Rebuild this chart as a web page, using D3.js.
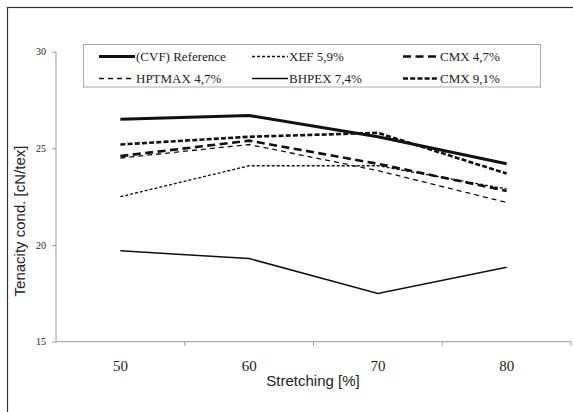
<!DOCTYPE html>
<html>
<head>
<meta charset="utf-8">
<script src="https://cdn.jsdelivr.net/npm/d3@7"></script>
<style>
  html, body { margin: 0; padding: 0; background: #fff; }
  svg { display: block; }
</style>
</head>
<body>
<svg id="chart" width="573" height="412"></svg>
<script>
// Stretching levels (x categories) and tenacity values per fibre type
const stretching = ["50", "60", "70", "80"];
const yTicks = [15, 20, 25, 30];

const reference = [26.5, 26.7, 25.6, 24.2];
const xef59     = [22.5, 24.1, 24.1, 22.9];
const cmx47     = [24.6, 25.4, 24.2, 22.8];
const hptmax47  = [24.5, 25.2, 23.85, 22.2];
const bhpex74   = [19.7, 19.3, 17.5, 18.85];
const cmx91     = [25.2, 25.6, 25.8, 23.7];

const seriesNames = ["(CVF) Reference", "XEF 5,9%", "CMX 4,7%", "HPTMAX 4,7%", "BHPEX 7,4%", "CMX 9,1%"];

const series = [
  { name: seriesNames[0], values: reference, width: 3,   dash: null },
  { name: seriesNames[1], values: xef59,     width: 1.3, dash: "3,2" },
  { name: seriesNames[2], values: cmx47,     width: 2.6, dash: "8,4.5" },
  { name: seriesNames[3], values: hptmax47,  width: 1.3, dash: "5,4" },
  { name: seriesNames[4], values: bhpex74,   width: 1.5, dash: null },
  { name: seriesNames[5], values: cmx91,     width: 2.6, dash: "5,2.2" }
];

const svg = d3.select("#chart");

// outer frame
svg.append("rect")
  .attr("x", 7.5).attr("y", 7.5)
  .attr("width", 600).attr("height", 420)
  .attr("fill", "none").attr("stroke", "#333").attr("stroke-width", 1.2);

const plotLeft = 56, plotRight = 571, plotTop = 51.7, plotBottom = 341.7;

const x = d3.scaleBand().domain(stretching).range([plotLeft, plotRight]).padding(0);
const y = d3.scaleLinear().domain([15, 30]).range([plotBottom, plotTop]);

const axisColor = "#999";

// y axis
const yAxis = svg.append("g")
  .attr("transform", `translate(${plotLeft},0)`)
  .call(d3.axisLeft(y).tickValues(yTicks).tickSize(4).tickPadding(6).tickFormat(d3.format("d")));
yAxis.select(".domain").attr("stroke", axisColor).attr("d", `M0,${plotTop}V${plotBottom}`);
yAxis.selectAll(".tick line").attr("stroke", axisColor);
yAxis.selectAll(".tick text")
  .attr("fill", "#222")
  .style("font-family", "'Liberation Serif', 'Times New Roman', serif")
  .style("font-size", "10px");

// x axis: baseline, boundary ticks, centred category labels
const xg = svg.append("g");
xg.append("line")
  .attr("x1", plotLeft).attr("x2", plotRight)
  .attr("y1", plotBottom).attr("y2", plotBottom)
  .attr("stroke", axisColor).attr("stroke-width", 1);
const bounds = stretching.map(c => x(c)).concat([x.range()[1]]);
xg.selectAll(".xtick").data(bounds.slice(1)).enter().append("line")
  .attr("x1", d => d).attr("x2", d => d)
  .attr("y1", plotBottom).attr("y2", plotBottom + 4)
  .attr("stroke", axisColor);
xg.selectAll(".xlab").data(stretching).enter().append("text")
  .attr("x", d => x(d) + x.bandwidth() / 2)
  .attr("y", plotBottom + 29)
  .attr("text-anchor", "middle")
  .attr("fill", "#222")
  .style("font-family", "'Liberation Serif', 'Times New Roman', serif")
  .style("font-size", "15px")
  .text(d => d);

// axis titles
svg.append("text")
  .attr("x", 313).attr("y", 386)
  .attr("text-anchor", "middle")
  .attr("fill", "#222")
  .style("font-family", "'Liberation Sans', Arial, sans-serif")
  .style("font-size", "15px")
  .text("Stretching [%]");

svg.append("text")
  .attr("transform", "translate(25,221) rotate(-90)")
  .attr("text-anchor", "middle")
  .attr("fill", "#222")
  .style("font-family", "'Liberation Sans', Arial, sans-serif")
  .style("font-size", "15px")
  .text("Tenacity cond. [cN/tex]");

// series lines
const line = d3.line()
  .x((d, i) => x(stretching[i]) + x.bandwidth() / 2)
  .y(d => y(d));

svg.append("g").selectAll("path").data(series).enter().append("path")
  .attr("d", d => line(d.values))
  .attr("fill", "none")
  .attr("stroke", "#111")
  .attr("stroke-width", d => d.width)
  .attr("stroke-dasharray", d => d.dash)
  .attr("stroke-linejoin", "miter");

// legend
const lg = svg.append("g");
lg.append("rect")
  .attr("x", 83.5).attr("y", 44.5)
  .attr("width", 457).attr("height", 42.5)
  .attr("fill", "#fff").attr("stroke", "#aaa").attr("stroke-width", 1);

const colX = [99, 252, 403];
const rowY = [56.5, 78.5];
series.forEach((s, i) => {
  const cx = colX[i % 3], cy = rowY[Math.floor(i / 3)];
  lg.append("line")
    .attr("x1", cx).attr("x2", cx + 36)
    .attr("y1", cy).attr("y2", cy)
    .attr("stroke", "#111")
    .attr("stroke-width", s.width)
    .attr("stroke-dasharray", s.dash);
  lg.append("text")
    .attr("x", cx + 37).attr("y", cy + 4.5)
    .attr("fill", "#222")
    .style("font-family", "'Liberation Serif', 'Times New Roman', serif")
    .style("font-size", "13px")
    .text(s.name);
});
</script>
</body>
</html>
